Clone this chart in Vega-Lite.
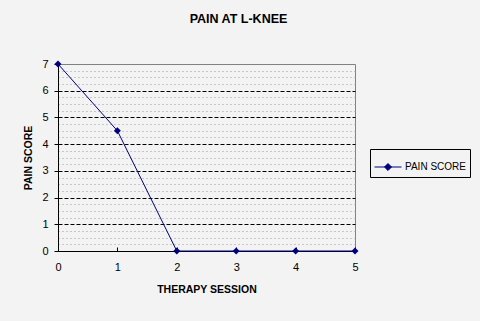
{
  "$schema": "https://vega.github.io/schema/vega-lite/v6.json",
  "width": 297,
  "height": 187,
  "autosize": "none",
  "padding": {"left": 58, "top": 64, "right": 125, "bottom": 70},
  "background": "#f3f3f3",
  "title": {
    "text": "PAIN AT L-KNEE",
    "font": "Liberation Sans",
    "fontSize": 12.5,
    "fontWeight": "bold",
    "color": "#000000",
    "anchor": "middle",
    "frame": "group",
    "dx": 32,
    "offset": 33
  },
  "config": {
    "view": {"stroke": "#808080", "strokeWidth": 1, "fill": "#f3f3f3"},
    "font": "Liberation Sans"
  },
  "data": {
    "values": [
      {"session": 0, "score": 7, "series": "PAIN SCORE"},
      {"session": 1, "score": 4.5, "series": "PAIN SCORE"},
      {"session": 2, "score": 0, "series": "PAIN SCORE"},
      {"session": 3, "score": 0, "series": "PAIN SCORE"},
      {"session": 4, "score": 0, "series": "PAIN SCORE"},
      {"session": 5, "score": 0, "series": "PAIN SCORE"}
    ]
  },
  "encoding": {
    "x": {
      "field": "session",
      "type": "quantitative",
      "scale": {"domain": [0, 5], "nice": false, "zero": false},
      "axis": {
        "title": "THERAPY SESSION",
        "titleFont": "Liberation Sans",
        "titleFontSize": 10.5,
        "titleFontWeight": "bold",
        "titleColor": "#000000",
        "titlePadding": 12,
        "values": [0, 1, 2, 3, 4, 5],
        "format": "d",
        "labelFont": "Liberation Sans",
        "labelFontSize": 11,
        "labelColor": "#000000",
        "labelPadding": 14,
        "labelFlush": false,
        "tickSize": -4,
        "tickColor": "#000000",
        "domainColor": "#000000",
        "grid": false
      }
    }
  },
  "layer": [
    {
      "mark": {"type": "point", "opacity": 0},
      "encoding": {
        "y": {
          "field": "score",
          "type": "quantitative",
          "scale": {"domain": [0, 7], "nice": false},
          "axis": {
            "orient": "right",
            "title": null,
            "labels": false,
            "ticks": false,
            "domain": false,
            "grid": true,
            "gridColor": "#9a9a9a",
            "gridDash": [1, 3],
            "gridWidth": 1,
            "values": [0.25, 0.5, 0.75, 1.25, 1.5, 1.75, 2.25, 2.5, 2.75, 3.25, 3.5, 3.75, 4.25, 4.5, 4.75, 5.25, 5.5, 5.75, 6.25, 6.5, 6.75]
          }
        }
      }
    },
    {
      "mark": {
        "type": "line",
        "strokeWidth": 1,
        "point": {"shape": "diamond", "size": 49, "filled": true, "color": "#000080", "opacity": 1}
      },
      "encoding": {
        "y": {
          "field": "score",
          "type": "quantitative",
          "scale": {"domain": [0, 7], "nice": false},
          "axis": {
            "orient": "left",
            "title": "PAIN SCORE",
            "titleFont": "Liberation Sans",
            "titleFontSize": 10.5,
            "titleFontWeight": "bold",
            "titleColor": "#000000",
            "titlePadding": 8,
            "values": [0, 1, 2, 3, 4, 5, 6, 7],
            "labelFont": "Liberation Sans",
            "labelFontSize": 11,
            "labelColor": "#000000",
            "labelPadding": 6,
            "labelFlush": false,
            "tickSize": 4,
            "tickColor": "#000000",
            "domainColor": "#000000",
            "grid": true,
            "gridColor": "#000000",
            "gridDash": [4, 2],
            "gridWidth": 1,
            "gridOpacity": {"condition": {"test": "datum.value === 0 || datum.value === 7", "value": 0}, "value": 1}
          }
        },
        "color": {
          "field": "series",
          "type": "nominal",
          "scale": {"range": ["#000080"]},
          "legend": {
            "title": null,
            "orient": "none",
            "legendX": 312,
            "legendY": 85,
            "strokeColor": "#000000",
            "padding": 4,
            "symbolType": "M-1,0L1,0M-0.26,0L0,-0.26L0.26,0L0,0.26Z",
            "symbolSize": 729,
            "symbolStrokeWidth": 1,
            "symbolFillColor": "#000080",
            "labelFont": "Liberation Sans",
            "labelFontSize": 10,
            "labelColor": "#000000",
            "labelOffset": 3
          }
        }
      }
    }
  ],
  "resolve": {"axis": {"y": "independent"}}
}
